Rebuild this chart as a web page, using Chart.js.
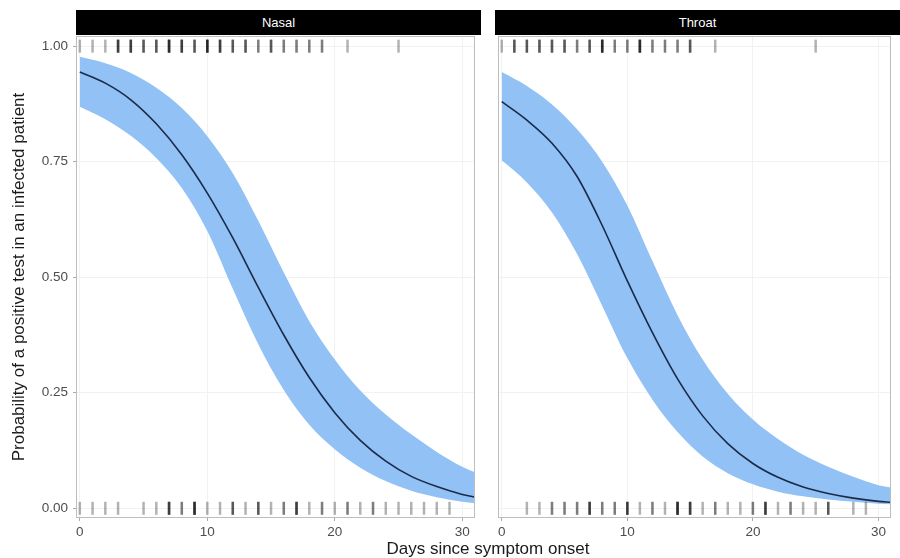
<!DOCTYPE html>
<html>
<head>
<meta charset="utf-8">
<script src="https://cdn.jsdelivr.net/npm/chart.js@4.4.0/dist/chart.umd.min.js"></script>
<style>
  body { margin: 0; background: #fff; font-family: "Liberation Sans", Arial, sans-serif; }
  #wrap { position: relative; width: 900px; height: 558px; overflow: hidden; }
  canvas { position: absolute; top: 0; }
  .strip { position: absolute; top: 10px; height: 25px; background: #000; color: #fff;
           font-size: 13px; line-height: 25px; text-align: center; }
  #xtitle { position: absolute; left: 288px; width: 400px; top: 539px; font-size: 17px;
            line-height: 19px; text-align: center; color: #1a1a1a; }
</style>
</head>
<body>
<div id="wrap">
  <canvas id="nasal" width="484" height="558" style="left:0"></canvas>
  <canvas id="throat" width="411" height="558" style="left:489px"></canvas>
  <div class="strip" style="left:76px;width:405px">Nasal</div>
  <div class="strip" style="left:495px;width:405px">Throat</div>
  <div id="xtitle">Days since symptom onset</div>
</div>
<script>
const days = [0, 2, 4, 6, 8, 10, 12, 14, 16, 18, 20, 22, 24, 26, 28, 30, 31];

const nasalFit   = [0.944, 0.920, 0.884, 0.832, 0.765, 0.682, 0.585, 0.478, 0.375, 0.283, 0.207, 0.147, 0.102, 0.069, 0.047, 0.030, 0.024];
const nasalUpper = [0.977, 0.963, 0.942, 0.910, 0.866, 0.805, 0.725, 0.622, 0.510, 0.405, 0.322, 0.255, 0.203, 0.160, 0.122, 0.090, 0.078];
const nasalLower = [0.869, 0.842, 0.806, 0.758, 0.693, 0.600, 0.475, 0.355, 0.256, 0.181, 0.128, 0.088, 0.059, 0.038, 0.024, 0.014, 0.011];

const throatFit   = [0.880, 0.840, 0.790, 0.718, 0.612, 0.492, 0.380, 0.280, 0.200, 0.140, 0.097, 0.067, 0.046, 0.032, 0.022, 0.015, 0.013];
const throatUpper = [0.944, 0.914, 0.874, 0.820, 0.750, 0.655, 0.535, 0.418, 0.322, 0.248, 0.192, 0.150, 0.116, 0.090, 0.068, 0.050, 0.045];
const throatLower = [0.753, 0.705, 0.640, 0.550, 0.438, 0.325, 0.235, 0.165, 0.112, 0.076, 0.052, 0.036, 0.026, 0.019, 0.014, 0.010, 0.009];

// number of tests per day (index = day 0..30), positives drawn at 1, negatives at 0
const nasalPos  = [1, 1, 1, 4, 4, 3, 3, 5, 4, 3, 5, 4, 3, 3, 2, 3, 2, 2, 2, 2, 0, 1, 0, 0, 0, 1, 0, 0, 0, 0, 0];
const nasalNeg  = [1, 1, 1, 1, 0, 1, 1, 4, 2, 5, 1, 1, 3, 1, 3, 1, 2, 4, 1, 2, 1, 2, 1, 2, 1, 1, 1, 1, 1, 1, 0];
const throatPos = [1, 3, 3, 3, 3, 3, 2, 3, 5, 2, 2, 5, 2, 2, 2, 3, 0, 1, 0, 0, 0, 0, 0, 0, 0, 1, 0, 0, 0, 0, 0];
const throatNeg = [0, 0, 1, 1, 2, 2, 2, 4, 2, 2, 4, 1, 2, 1, 5, 4, 1, 2, 1, 1, 2, 4, 1, 2, 1, 1, 3, 0, 1, 1, 0];

const xTicks = [0, 10, 20, 30];
const yTicks = [0, 0.25, 0.5, 0.75, 1];
const xMin = -0.3, xMax = 31;
const yMin = -0.021, yMax = 1.022;

const toPoints = vals => vals.map((v, i) => ({ x: days[i], y: v }));

function rugPoints(counts, y) {
  const pts = [];
  counts.forEach((n, day) => {
    for (let k = 0; k < n; k++) pts.push({ x: day, y: y });
  });
  return pts;
}

const panelBorder = {
  id: 'panelBorder',
  afterDraw(chart) {
    const { ctx, chartArea: a } = chart;
    ctx.save();
    ctx.strokeStyle = '#bdbdbd';
    ctx.lineWidth = 1;
    ctx.strokeRect(a.left + 0.5, a.top + 0.5, a.right - a.left - 1, a.bottom - a.top - 1);
    ctx.restore();
  }
};

function rugSet(points) {
  return {
    data: points,
    showLine: false,
    pointStyle: 'line',
    pointRotation: 90,
    pointRadius: 6.5,
    pointBorderWidth: 2.5,
    pointBorderColor: 'rgba(0,0,0,0.3)',
    pointBackgroundColor: 'rgba(0,0,0,0.3)'
  };
}

function makePanel(id, fit, upper, lower, pos, neg, isLeft) {
  return new Chart(document.getElementById(id), {
    type: 'line',
    data: {
      datasets: [
        rugSet(rugPoints(pos, 1)),
        rugSet(rugPoints(neg, 0)),
        {
          data: toPoints(fit),
          borderColor: '#1b2a47',
          borderWidth: 1.6,
          pointRadius: 0,
          cubicInterpolationMode: 'monotone',
          fill: false
        },
        {
          data: toPoints(upper),
          borderColor: 'transparent',
          borderWidth: 0,
          pointRadius: 0,
          cubicInterpolationMode: 'monotone',
          backgroundColor: '#92c1f6',
          fill: '+1'
        },
        {
          data: toPoints(lower),
          borderColor: 'transparent',
          borderWidth: 0,
          pointRadius: 0,
          cubicInterpolationMode: 'monotone',
          fill: false
        }
      ]
    },
    options: {
      responsive: false,
      animation: false,
      events: [],
      devicePixelRatio: 1,
      layout: { padding: { top: 36, right: isLeft ? 3 : 0, left: 0, bottom: 0 } },
      plugins: { legend: { display: false }, tooltip: { enabled: false } },
      scales: {
        x: {
          type: 'linear',
          min: xMin,
          max: xMax,
          afterBuildTicks: s => { s.ticks = xTicks.map(v => ({ value: v })); },
          afterFit: s => { s.height = 40; },
          border: { display: false },
          grid: { color: '#f2f2f2', tickColor: '#aaaaaa', tickLength: 3 },
          ticks: {
            color: '#4d4d4d',
            font: { family: 'Liberation Sans', size: 13.5 },
            padding: 3,
            maxRotation: 0,
            autoSkip: false,
            callback: v => String(v)
          }
        },
        y: {
          type: 'linear',
          min: yMin,
          max: yMax,
          afterBuildTicks: s => { s.ticks = yTicks.map(v => ({ value: v })); },
          afterFit: s => { s.width = isLeft ? 76 : 6; },
          border: { display: false },
          grid: { color: '#f2f2f2', tickColor: '#aaaaaa', tickLength: 3, drawTicks: isLeft },
          ticks: {
            display: isLeft,
            color: '#4d4d4d',
            font: { family: 'Liberation Sans', size: 13.5 },
            padding: 5,
            callback: v => v.toFixed(2)
          },
          title: {
            display: isLeft,
            text: 'Probability of a positive test in an infected patient',
            color: '#1a1a1a',
            font: { family: 'Liberation Sans', size: 17 },
            padding: { top: 9, bottom: 0 }
          }
        }
      }
    },
    plugins: [panelBorder]
  });
}

makePanel('nasal', nasalFit, nasalUpper, nasalLower, nasalPos, nasalNeg, true);
makePanel('throat', throatFit, throatUpper, throatLower, throatPos, throatNeg, false);
</script>
</body>
</html>
